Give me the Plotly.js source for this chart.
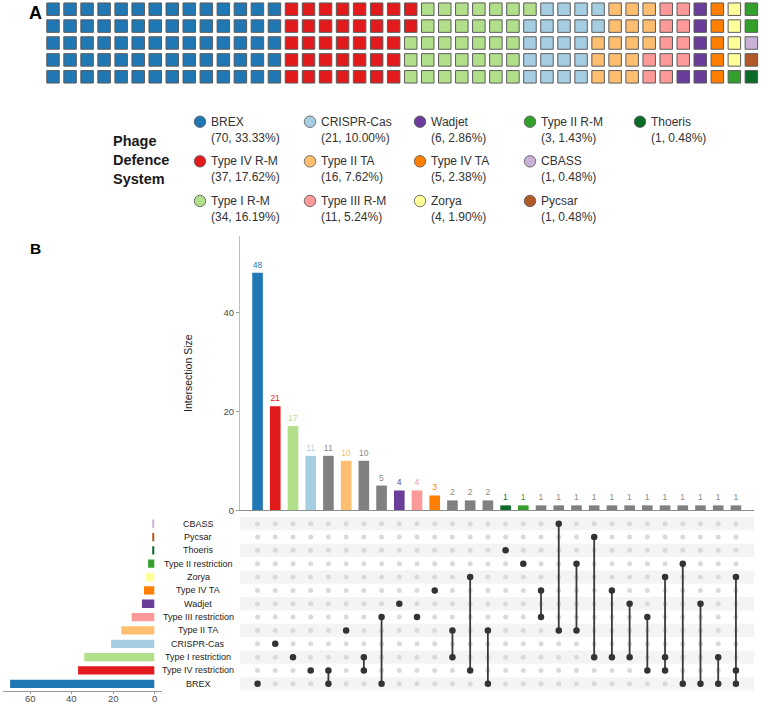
<!DOCTYPE html>
<html>
<head>
<meta charset="utf-8">
<script src="https://cdn.plot.ly/plotly-3.0.1.min.js"></script>
<style>html,body{margin:0;padding:0;background:#fff;}#chart{width:761px;height:704px;}</style>
</head>
<body>
<div id="chart"></div>
<script>
// ---------- DATA ----------
// Panel A: waffle / legend (fill order)
const systemNames = ["BREX","Type IV R-M","Type I R-M","CRISPR-Cas","Type II TA","Type III R-M","Wadjet","Type IV TA","Zorya","Type II R-M","CBASS","Pycsar","Thoeris"];
const systemCounts = [70,37,34,21,16,11,6,5,4,3,1,1,1];
const systemColors = ["#1F78B4","#E31A1C","#B2DF8A","#A6CEE3","#FDBF6F","#FB9A99","#6A3D9A","#FF7F00","#FFFF99","#33A02C","#CAB2D6","#B15928","#0A6B27"];

// Panel B: set sizes (top to bottom in matrix)
const setNames = ["CBASS","Pycsar","Thoeris","Type II restriction","Zorya","Type IV TA","Wadjet","Type III restriction","Type II TA","CRISPR-Cas","Type I restriction","Type IV restriction","BREX"];
const setSizes = [1,1,1,3,4,5,6,11,16,21,34,37,70];
const setColors = ["#CAB2D6","#B15928","#0A6B27","#33A02C","#FFFF99","#FF7F00","#6A3D9A","#FB9A99","#FDBF6F","#A6CEE3","#B2DF8A","#E31A1C","#1F78B4"];
const setSizeTicks = [0,20,40,60];

// Panel B: intersections
const intersectionSizes = [48,21,17,11,11,10,10,5,4,4,3,2,2,2,1,1,1,1,1,1,1,1,1,1,1,1,1,1];
const intersectionSets = [
  ["BREX"],["CRISPR-Cas"],["Type I restriction"],["Type IV restriction"],
  ["Type IV restriction","BREX"],["Type II TA"],["Type I restriction","Type IV restriction"],
  ["Type III restriction","BREX"],["Wadjet"],["Type III restriction"],["Type IV TA"],
  ["Type II TA","Type I restriction"],["Zorya","Type IV restriction"],["Type II TA","BREX"],
  ["Thoeris"],["Type II restriction"],["Type IV TA","Type III restriction"],["CBASS","Type II TA"],
  ["Type II restriction","Type II TA"],["Pycsar","Type I restriction"],["Type IV TA","Type I restriction"],
  ["Wadjet","Type I restriction"],["Type III restriction","Type IV restriction"],
  ["Zorya","Type I restriction","Type IV restriction"],["Type II restriction","BREX"],
  ["Wadjet","BREX"],["Type I restriction","BREX"],["Zorya","Type IV restriction","BREX"]
];
const GREY = "#808080";
const intersectionColors = ["#1F78B4","#E31A1C","#B2DF8A","#A6CEE3",GREY,"#FDBF6F",GREY,GREY,"#6A3D9A","#FB9A99","#FF7F00",GREY,GREY,GREY,"#0A6B27","#33A02C",GREY,GREY,GREY,GREY,GREY,GREY,GREY,GREY,GREY,GREY,GREY,GREY];
const intersectionTicks = [0,20,40];

// ---------- LAYOUT HELPERS ----------
const W = 761, H = 704;
const FONT = "Liberation Sans, Arial, Helvetica, sans-serif";
const fx = p => p / W;
const fy = p => 1 - p / H;

const traces = [];
const annotations = [];

// ---------- PANEL A: WAFFLE ----------
const NROWS = 5;
const wx = [], wy = [], wc = [];
let k = 0;
systemCounts.forEach((n, i) => {
  for (let j = 0; j < n; j++) {
    wx.push(Math.floor(k / NROWS));
    wy.push(k % NROWS);
    wc.push(systemColors[i]);
    k++;
  }
});
const NCOLS = Math.ceil(k / NROWS);
traces.push({
  type: "scatter", mode: "markers", xaxis: "x3", yaxis: "y3",
  x: wx, y: wy, hoverinfo: "skip",
  marker: {symbol: "square", size: 12.5, color: wc, line: {color: "#5c5c5c", width: 1}}
});

// legend
const total = systemCounts.reduce((a, b) => a + b, 0);
const LROWS = 3;
const lx = systemNames.map((_, i) => Math.floor(i / LROWS));
const ly = systemNames.map((_, i) => i % LROWS);
traces.push({
  type: "scatter", mode: "markers", xaxis: "x5", yaxis: "y5",
  x: lx, y: ly, hoverinfo: "skip",
  marker: {symbol: "circle", size: 11.5, color: systemColors, line: {color: "#555", width: 0.8}}
});
systemNames.forEach((nm, i) => {
  const pct = (systemCounts[i] / total * 100).toFixed(2);
  annotations.push({
    xref: "x5", yref: "y5", x: lx[i], y: ly[i], xanchor: "left", yanchor: "middle",
    xshift: 8.5, yshift: -7.8, align: "left", showarrow: false,
    text: nm + "<br>(" + systemCounts[i] + ", " + pct + "%)",
    font: {family: FONT, size: 12, color: "#333"}
  });
});
annotations.push({
  xref: "paper", yref: "paper", x: fx(111), y: fy(159.5), xanchor: "left", yanchor: "middle",
  align: "left", showarrow: false, text: "<b>Phage<br>Defence<br>System</b>",
  font: {family: FONT, size: 14.5, color: "#1a1a1a"}
});
annotations.push({xref: "paper", yref: "paper", x: fx(35), y: fy(13.5), xanchor: "center", yanchor: "middle",
  showarrow: false, text: "<b>A</b>", font: {family: FONT, size: 18, color: "#000"}});
annotations.push({xref: "paper", yref: "paper", x: fx(35.5), y: fy(248), xanchor: "center", yanchor: "middle",
  showarrow: false, text: "<b>B</b>", font: {family: FONT, size: 15.5, color: "#000"}});

// ---------- PANEL B ----------
const nInt = intersectionSizes.length;
const xIdx = intersectionSizes.map((_, i) => i);
const XR = [-0.99, nInt + 0.02];

// stripes
const stripeRows = setNames.map((_, i) => i).filter(i => i % 2 === 0);
traces.push({
  type: "bar", orientation: "h", xaxis: "x", yaxis: "y2",
  y: stripeRows, x: stripeRows.map(() => XR[1] - XR[0]), base: XR[0], width: 1,
  marker: {color: "#f4f4f4", line: {width: 0}}, hoverinfo: "skip"
});

// intersection bars
traces.push({
  type: "bar", xaxis: "x", yaxis: "y", x: xIdx, y: intersectionSizes, width: 0.6,
  marker: {color: intersectionColors, line: {width: 0}},
  text: intersectionSizes.map(String), textposition: "outside", cliponaxis: false,
  constraintext: "none",
  textfont: {family: FONT, size: 8.5, color: intersectionColors.map(c => c === GREY ? "#8a8a8a" : c)},
  hoverinfo: "skip"
});

// matrix dots
const ix = [], iy = [], ax = [], ay = [], lnx = [], lny = [];
intersectionSets.forEach((sets, c) => {
  const rows = sets.map(s => setNames.indexOf(s));
  setNames.forEach((_, r) => {
    if (rows.indexOf(r) >= 0) { ax.push(c); ay.push(r); }
    else { ix.push(c); iy.push(r); }
  });
  if (rows.length > 1) {
    lnx.push(c, c, null);
    lny.push(Math.min(...rows), Math.max(...rows), null);
  }
});
traces.push({type: "scatter", mode: "markers", xaxis: "x", yaxis: "y2", x: ix, y: iy,
  marker: {color: "#dadada", size: 5}, hoverinfo: "skip"});
traces.push({type: "scatter", mode: "lines", xaxis: "x", yaxis: "y2", x: lnx, y: lny,
  line: {color: "#3a3a3a", width: 1.8}, hoverinfo: "skip"});
traces.push({type: "scatter", mode: "markers", xaxis: "x", yaxis: "y2", x: ax, y: ay,
  marker: {color: "#333", size: 6.5}, hoverinfo: "skip"});

// set-size bars
traces.push({
  type: "bar", orientation: "h", xaxis: "x4", yaxis: "y2",
  y: setNames.map((_, i) => i), x: setSizes, width: 0.62,
  marker: {color: setColors, line: {width: 0}}, hoverinfo: "skip"
});

// set-size tick labels (placed close under the axis line)
setSizeTicks.forEach(t => {
  annotations.push({xref: "x4", yref: "paper", x: t, y: fy(698.3), xanchor: "center", yanchor: "middle",
    showarrow: false, text: String(t), font: {family: FONT, size: 9.5, color: "#4d4d4d"}});
});

// set names
setNames.forEach((nm, i) => {
  annotations.push({xref: "paper", yref: "y2", x: fx(198), y: i, xanchor: "center", yanchor: "middle",
    showarrow: false, text: nm, font: {family: FONT, size: 9, color: "#1a1a1a"}});
});

// y title
annotations.push({xref: "paper", yref: "paper", x: fx(188), y: fy(373), xanchor: "center", yanchor: "middle",
  textangle: -90, showarrow: false, text: "Intersection Size",
  font: {family: FONT, size: 10.5, color: "#1a1a1a"}});

const hidden = {visible: false, showgrid: false, zeroline: false, fixedrange: true};

const layout = {
  width: W, height: H,
  margin: {l: 0, r: 0, t: 0, b: 0, pad: 0},
  paper_bgcolor: "#fff", plot_bgcolor: "rgba(0,0,0,0)",
  showlegend: false, barmode: "overlay",
  font: {family: FONT},
  xaxis: {domain: [fx(240), fx(754)], range: XR, anchor: "y", showgrid: false, zeroline: false,
    showticklabels: false, ticks: "", showline: true, linecolor: "#8c8c8c", linewidth: 1, fixedrange: true},
  yaxis: {domain: [fy(510.3), fy(236)], range: [0, 55.4], anchor: "x", showgrid: false, zeroline: false,
    showline: true, linecolor: "#bdbdbd", linewidth: 1, ticks: "outside", ticklen: 3, tickcolor: "#9a9a9a",
    tickvals: intersectionTicks, tickfont: {family: FONT, size: 9.5, color: "#4d4d4d"}, fixedrange: true},
  yaxis2: Object.assign({domain: [fy(690.5), fy(517)], range: [setNames.length - 0.5, -0.5], anchor: "x"}, hidden),
  xaxis4: {domain: [fx(2.7), fx(161.7)], range: [73.6, -3.6], anchor: "y2", showgrid: false, zeroline: false,
    showline: true, linecolor: "#9a9a9a", linewidth: 1, ticks: "outside", ticklen: 2.5, tickcolor: "#9a9a9a",
    tickvals: setSizeTicks, showticklabels: false, fixedrange: true},
  xaxis3: Object.assign({domain: [fx(44.5), fx(759.9)], range: [-0.5, NCOLS - 0.5], anchor: "y3"}, hidden),
  yaxis3: Object.assign({domain: [fy(85.25), fy(0.75)], range: [NROWS - 0.5, -0.5], anchor: "x3"}, hidden),
  xaxis5: Object.assign({domain: [fx(145), fx(695)], range: [-0.5, 4.5], anchor: "y5"}, hidden),
  yaxis5: Object.assign({domain: [fy(220.8), fy(101.9)], range: [2.5, -0.5], anchor: "x5"}, hidden),
  annotations: annotations
};

Plotly.newPlot("chart", traces, layout, {displayModeBar: false, staticPlot: true});
</script>
</body>
</html>
